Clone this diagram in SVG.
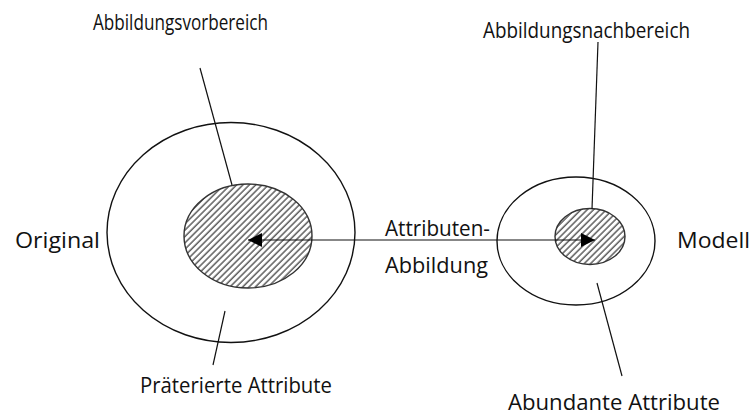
<svg xmlns="http://www.w3.org/2000/svg" width="752" height="417" viewBox="0 0 752 417">
<defs>
<pattern id="hatch" width="4.5" height="4.5" patternUnits="userSpaceOnUse" patternTransform="rotate(45)">
<line x1="1" y1="0" x2="1" y2="4.5" stroke="#222" stroke-width="1.1"/>
</pattern>
<marker id="ah" viewBox="0 0 10 10" refX="10" refY="5" markerWidth="20" markerHeight="14" markerUnits="userSpaceOnUse" orient="auto-start-reverse">
<path d="M0,0 L10,5 L0,10 z" fill="#000"/>
</marker>
</defs>
<style>
.outer{fill:none;stroke:#111;stroke-width:1.4}
.inner{fill:url(#hatch);stroke:#333;stroke-width:1.4}
.lbl{font-family:"Open Sans","Noto Sans",sans-serif;font-size:22px;fill:#111}
.lead{stroke:#111;stroke-width:1.2;fill:none}
</style>
<rect width="752" height="417" fill="#fff"/>
<g id="original">
<ellipse class="outer" cx="231" cy="232.5" rx="124" ry="110"/>
<text class="lbl" x="15" y="248" textLength="85" lengthAdjust="spacingAndGlyphs">Original</text>
</g>
<g id="vorbereich">
<ellipse class="inner" cx="248" cy="236" rx="64" ry="52"/>
<text class="lbl" x="93" y="30" textLength="175" lengthAdjust="spacingAndGlyphs">Abbildungsvorbereich</text>
</g>
<g id="modell">
<ellipse class="outer" cx="576" cy="241" rx="79" ry="64"/>
<text class="lbl" x="677" y="248" textLength="73" lengthAdjust="spacingAndGlyphs">Modell</text>
</g>
<g id="nachbereich">
<ellipse class="inner" cx="590" cy="236.5" rx="35" ry="28"/>
<text class="lbl" x="483" y="38" textLength="207" lengthAdjust="spacingAndGlyphs">Abbildungsnachbereich</text>
</g>
<g id="praeteriert">
<text class="lbl" x="140" y="393" textLength="192" lengthAdjust="spacingAndGlyphs">Präterierte Attribute</text>
</g>
<g id="abundant">
<text class="lbl" x="508" y="410" font-size="21" textLength="212" lengthAdjust="spacingAndGlyphs">Abundante Attribute</text>
</g>
<g id="connectors">
<line class="lead" x1="248" y1="240" x2="595" y2="240" marker-start="url(#ah)" marker-end="url(#ah)"/>
<text class="lbl" x="385" y="236" textLength="105" lengthAdjust="spacingAndGlyphs">Attributen-</text>
<text class="lbl" x="385" y="273" textLength="103" lengthAdjust="spacingAndGlyphs">Abbildung</text>
<line class="lead" x1="200" y1="68" x2="232" y2="185"/>
<line class="lead" x1="598" y1="42" x2="592" y2="209"/>
<line class="lead" x1="225" y1="311" x2="213" y2="365"/>
<line class="lead" x1="597" y1="283" x2="622" y2="376"/>
</g>
</svg>
